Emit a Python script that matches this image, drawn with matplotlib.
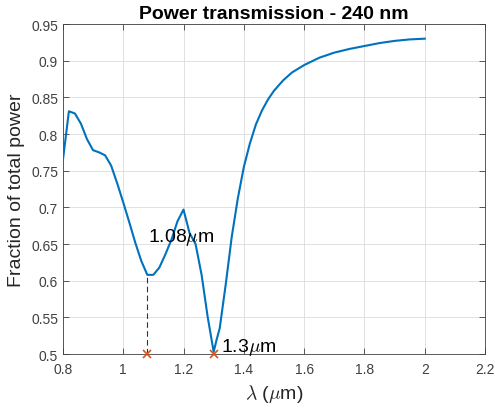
import matplotlib
matplotlib.use('Agg')
import matplotlib.pyplot as plt

# wavelength (um) and transmitted power fraction
lam = [0.80, 0.82, 0.84, 0.86, 0.88, 0.90, 0.92, 0.94, 0.96, 0.98,
       1.00, 1.02, 1.04, 1.06, 1.08, 1.10, 1.12, 1.14, 1.16, 1.18,
       1.20, 1.22, 1.24, 1.26, 1.28, 1.30, 1.31, 1.32, 1.34, 1.36,
       1.38, 1.40, 1.42, 1.44, 1.46, 1.48, 1.50, 1.53, 1.56, 1.60,
       1.65, 1.70, 1.75, 1.80, 1.85, 1.90, 1.95, 2.00]
power = [0.764, 0.831, 0.828, 0.814, 0.793, 0.778, 0.775, 0.771, 0.757, 0.733,
         0.707, 0.680, 0.652, 0.627, 0.608, 0.608, 0.618, 0.636, 0.656, 0.681,
         0.697, 0.665, 0.650, 0.608, 0.551, 0.503, 0.520, 0.535, 0.595, 0.660,
         0.712, 0.755, 0.787, 0.813, 0.832, 0.847, 0.859, 0.873, 0.884, 0.894,
         0.904, 0.911, 0.916, 0.920, 0.924, 0.927, 0.929, 0.930]

# marked minima
min_lam = [1.08, 1.30]
min_val = [0.608, 0.503]
min_labels = ['1.08$\\mu$m', '1.3$\\mu$m']

xticks = [0.8, 1.0, 1.2, 1.4, 1.6, 1.8, 2.0, 2.2]
xticklabels = ['0.8', '1', '1.2', '1.4', '1.6', '1.8', '2', '2.2']
yticks = [0.5, 0.55, 0.6, 0.65, 0.7, 0.75, 0.8, 0.85, 0.9, 0.95]
yticklabels = ['0.5', '0.55', '0.6', '0.65', '0.7', '0.75', '0.8', '0.85', '0.9', '0.95']

plt.rcParams['font.family'] = ['Liberation Sans', 'DejaVu Sans']
plt.rcParams['mathtext.fontset'] = 'cm'

fig = plt.figure(figsize=(4.95, 4.10), dpi=100)
ax = fig.add_axes([0.127, 0.134, 0.853, 0.805])

ax.plot(lam, power, color='#0072BD', linewidth=1.5, zorder=3)

# dashed drop line from first minimum down to axis
ax.plot([min_lam[0], min_lam[0]], [yticks[0], min_val[0]], color='#333333',
        linestyle='--', linewidth=0.8, dashes=(5, 3), zorder=2)
ax.plot(min_lam, [yticks[0]] * len(min_lam), linestyle='none', marker='x',
        color='#D95319', markersize=6, markeredgewidth=1.2, zorder=4, clip_on=False)

ax.text(1.083, 0.654, min_labels[0], fontsize=14, ha='left', va='baseline')
ax.text(1.323, 0.504, min_labels[1], fontsize=14, ha='left', va='baseline')

ax.set_xlim(0.8, 2.2)
ax.set_ylim(0.5, 0.95)
ax.set_xticks(xticks)
ax.set_xticklabels(xticklabels)
ax.set_yticks(yticks)
ax.set_yticklabels(yticklabels)
ax.tick_params(direction='in', length=4, width=0.6, labelsize=10,
               colors='#404040', top=True, right=True)
ax.tick_params(axis='x', pad=6)
ax.grid(True, color='#dcdcdc', linewidth=0.6)
ax.set_axisbelow(True)
for s in ax.spines.values():
    s.set_color('#404040')
    s.set_linewidth(0.6)

ax.set_xlabel('$\\lambda$ ($\\mu$m)', fontsize=14, color='#262626')
ax.set_ylabel('Fraction of total power', fontsize=14, color='#262626')
ax.set_title('Power transmission - 240 nm', fontsize=14, fontweight='bold', pad=4)

fig.savefig('out.png', dpi=100)
